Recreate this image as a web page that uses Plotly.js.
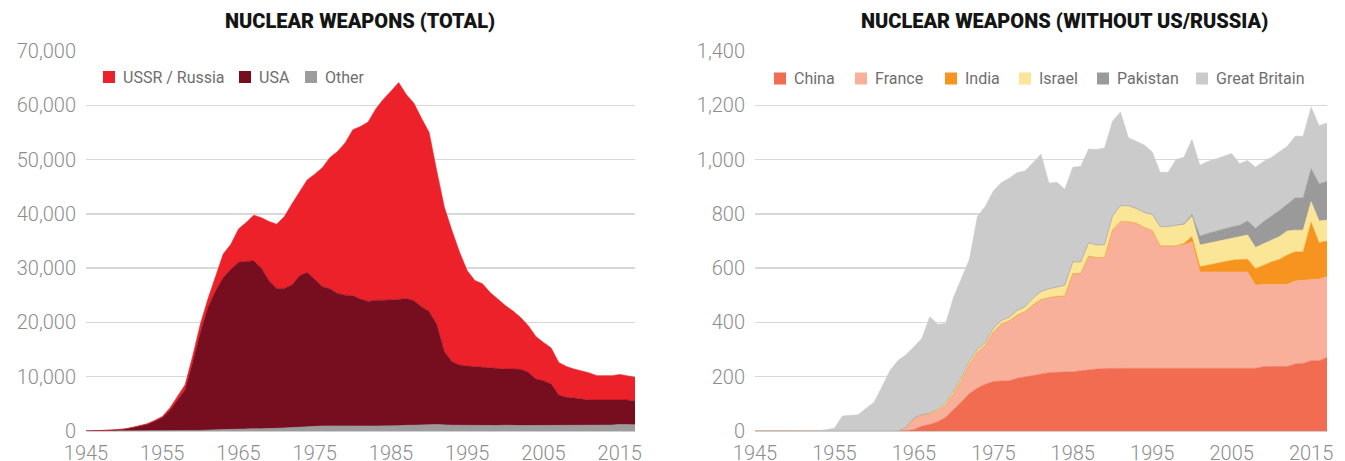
<!DOCTYPE html>
<html><head><meta charset="utf-8">
<script src="https://cdn.plot.ly/plotly-3.0.1.min.js"></script>
<style>html,body{margin:0;padding:0;background:#fff}#chart{width:1345px;height:461px}</style>
</head><body><div id="chart"></div>
<script>
// ---------- DATA ----------
const years = [1945,1946,1947,1948,1949,1950,1951,1952,1953,1954,
  1955,1956,1957,1958,1959,1960,1961,1962,1963,1964,
  1965,1966,1967,1968,1969,1970,1971,1972,1973,1974,
  1975,1976,1977,1978,1979,1980,1981,1982,1983,1984,
  1985,1986,1987,1988,1989,1990,1991,1992,1993,1994,
  1995,1996,1997,1998,1999,2000,2001,2002,2003,2004,
  2005,2006,2007,2008,2009,2010,2011,2012,2013,2014,
  2015,2016,2017];
const xTicks = [1945,1955,1965,1975,1985,1995,2005,2015];

// Left chart: total stockpiles
const otherCountries = [0,0,0,0,0,0,0,0,1,5,
  10,55,58,60,84,106,164,223,260,281,
  310,341,421,393,396,493,563,633,791,828,
  884,915,931,952,958,990,1020,913,916,891,
  972,975,1039,1037,1043,1141,1175,1080,1067,1054,
  1028,953,953,1000,1009,1074,979,993,1002,1011,
  1022,985,997,972,993,1008,1029,1049,1086,1086,
  1193,1125,1135];
const usa = [0,10,50,150,250,350,600,950,1200,1800,
  2440,3745,5640,7540,12560,18050,22600,25600,28020,29520,
  30790,30830,30930,29610,27270,25770,25700,26240,27810,28370,
  27100,25650,25270,24390,24070,23910,23280,22960,23180,23210,
  23130,23260,23360,22960,21860,20860,18430,13520,11690,11100,
  10930,10890,10830,10660,10460,10340,10430,10360,9800,8560,
  8240,7670,5630,5230,5080,4820,4670,4650,4610,4610,
  4510,4580,4330];
const ussrRussia = [0,0,0,0,1,5,25,50,120,150,
  200,450,700,900,1220,1540,1600,2770,4320,4600,
  6100,7230,8400,9300,10930,11840,13190,14930,15500,17050,
  19320,21940,24200,26160,28070,30600,31800,33030,35200,37000,
  38500,39940,37600,36400,34700,33000,28300,26600,24140,20750,
  17540,15860,15320,13840,12830,11690,10690,9550,8600,7830,
  7040,6650,5970,5700,5330,5270,5000,4500,4500,4500,
  4700,4500,4440];

// Right chart: without US / Russia
const china = [0,0,0,0,0,0,0,0,0,0,
  0,0,0,0,0,0,0,0,0,1,
  5,18,24,34,50,78,108,138,158,172,
  182,184,185,194,199,205,210,215,216,216,
  218,222,226,228,230,231,231,231,231,231,
  231,231,231,231,231,231,231,231,231,231,
  231,231,231,231,237,238,238,238,247,249,
  259,259,271];
const france = [0,0,0,0,0,0,0,0,0,0,
  0,0,0,0,0,0,0,0,0,13,
  42,42,39,41,46,59,78,108,133,144,
  183,210,220,233,241,260,274,276,280,281,
  362,358,418,411,409,509,540,540,534,519,
  507,451,451,451,454,466,355,355,355,355,
  355,355,355,306,303,302,302,302,306,306,
  300,301,297];
const india = [0,0,0,0,0,0,0,0,0,0,
  0,0,0,0,0,0,0,0,0,0,
  0,0,0,0,0,0,0,0,0,0,
  0,0,0,0,0,0,0,0,0,0,
  0,0,0,0,0,0,0,0,0,0,
  0,0,0,0,6,19,19,25,31,37,
  43,46,47,61,71,83,92,108,107,105,
  210,134,132];
const israel = [0,0,0,0,0,0,0,0,0,0,
  0,0,0,0,0,0,0,0,0,0,
  0,0,3,5,8,10,11,12,10,10,
  13,13,14,17,18,25,30,33,35,40,
  43,43,50,46,48,52,59,59,55,55,
  60,71,71,76,69,74,80,80,80,80,
  80,84,89,78,80,80,84,89,80,80,
  76,80,77];
const pakistan = [0,0,0,0,0,0,0,0,0,0,
  0,0,0,0,0,0,0,0,0,0,
  0,0,0,0,0,0,0,0,0,0,
  0,0,0,0,0,0,0,0,0,0,
  0,0,0,0,0,0,0,0,0,0,
  0,0,0,0,3,8,33,37,38,41,
  43,42,52,71,80,87,96,98,119,119,
  122,137,142];
const greatBritain = [0,0,0,0,0,0,0,0,1,5,
  10,55,58,60,84,106,164,223,260,267,
  263,281,355,313,292,346,366,375,490,502,
  506,508,512,508,500,500,506,389,385,354,
  349,352,345,352,356,349,345,250,247,249,
  230,200,200,242,246,276,261,265,267,267,
  270,227,223,225,222,218,217,214,227,227,
  226,214,216];

const leftSeries = [
  {name:'Other', values: otherCountries, color:'#9c9c9c'},
  {name:'USA', values: usa, color:'#770e1f'},
  {name:'USSR / Russia', values: ussrRussia, color:'#ec2129'}
];
const rightSeries = [
  {name:'China', values: china, color:'#f26c51'},
  {name:'France', values: france, color:'#f8b09a'},
  {name:'India', values: india, color:'#f6941f'},
  {name:'Israel', values: israel, color:'#fbe596'},
  {name:'Pakistan', values: pakistan, color:'#9a9a9a'},
  {name:'Great Britain', values: greatBritain, color:'#cbcbcb'}
];
const leftLegendOrder = ['USSR / Russia','USA','Other'];
const rightLegendOrder = ['China','France','India','Israel','Pakistan','Great Britain'];

// ---------- LAYOUT HELPERS ----------
const W = 1345, H = 461, MT = 51, MB = 30;
const px = x => x / W;
const py = y => (H - MB - y) / (H - MT - MB);

const traces = [];
leftSeries.forEach(s => traces.push({
  x: years, y: s.values, name: s.name, type: 'scatter', mode: 'lines',
  stackgroup: 'left', line: {width: 0.6, color: s.color}, fillcolor: s.color,
  xaxis: 'x', yaxis: 'y', showlegend: false, hoverinfo: 'x+y+name'
}));
rightSeries.forEach(s => traces.push({
  x: years, y: s.values, name: s.name, type: 'scatter', mode: 'lines',
  stackgroup: 'right', line: {width: 0.6, color: s.color}, fillcolor: s.color,
  xaxis: 'x2', yaxis: 'y2', showlegend: false, hoverinfo: 'x+y+name'
}));

const tickFont = {family: 'Roboto, "Noto Sans", sans-serif', size: 20, color: '#8d8d8d', weight: 300};
const xBase = {
  range: [1945, 2017], tickmode: 'array', tickvals: xTicks, ticktext: xTicks.map(String),
  showgrid: false, zeroline: false, showline: false, ticks: '', tickfont: tickFont,
  ticklabelstandoff: 8, fixedrange: true
};
const yBase = {
  tickformat: ',d', showgrid: true, gridcolor: '#d8d8d8', gridwidth: 1.5,
  zeroline: true, zerolinecolor: '#cfcfcf', zerolinewidth: 1.5, showline: false,
  ticks: '', tickfont: tickFont, ticklabelstandoff: 9, fixedrange: true, domain: [0, 1]
};

const layout = {
  width: W, height: H, margin: {l: 0, r: 0, t: MT, b: MB, pad: 0},
  paper_bgcolor: '#ffffff', plot_bgcolor: 'rgba(0,0,0,0)', showlegend: false,
  xaxis: Object.assign({}, xBase, {domain: [px(86), px(635)], anchor: 'y'}),
  yaxis: Object.assign({}, yBase, {range: [0, 70000], tickvals: [0,10000,20000,30000,40000,50000,60000,70000], anchor: 'x'}),
  xaxis2: Object.assign({}, xBase, {domain: [px(755), px(1327)], anchor: 'y2'}),
  yaxis2: Object.assign({}, yBase, {range: [0, 1400], tickvals: [0,200,400,600,800,1000,1200,1400], anchor: 'x2'}),
  annotations: [], shapes: []
};

const titleFont = {family: 'Roboto, "Noto Sans", sans-serif', size: 20, color: '#151515', weight: 900};
layout.annotations.push({text: 'NUCLEAR WEAPONS (TOTAL)', xref: 'paper', yref: 'paper',
  x: px(360), y: py(21), xanchor: 'center', yanchor: 'middle', showarrow: false, font: titleFont});
layout.annotations.push({text: 'NUCLEAR WEAPONS (WITHOUT US/RUSSIA)', xref: 'paper', yref: 'paper',
  x: px(1064), y: py(21), xanchor: 'center', yanchor: 'middle', showarrow: false, font: titleFont});

const legendFont = {family: 'Roboto, "Noto Sans", sans-serif', size: 16, color: '#6e6e6e'};
function addLegend(order, series, swatchX, cy) {
  order.forEach((name, i) => {
    const s = series.find(d => d.name === name);
    const x0 = swatchX[i];
    layout.shapes.push({type: 'rect', xref: 'paper', yref: 'paper',
      x0: px(x0), x1: px(x0 + 12), y0: py(cy + 6), y1: py(cy - 6),
      fillcolor: s.color, line: {width: 0}});
    layout.annotations.push({text: name, xref: 'paper', yref: 'paper',
      x: px(x0 + 18), y: py(cy), xanchor: 'left', yanchor: 'middle',
      showarrow: false, font: legendFont});
  });
}
addLegend(leftLegendOrder, leftSeries, [103, 239, 305], 77);
addLegend(rightLegendOrder, rightSeries, [774, 855, 945, 1019, 1097, 1196], 78.5);

Plotly.newPlot('chart', traces, layout, {displayModeBar: false, staticPlot: true});
</script>
</body></html>
